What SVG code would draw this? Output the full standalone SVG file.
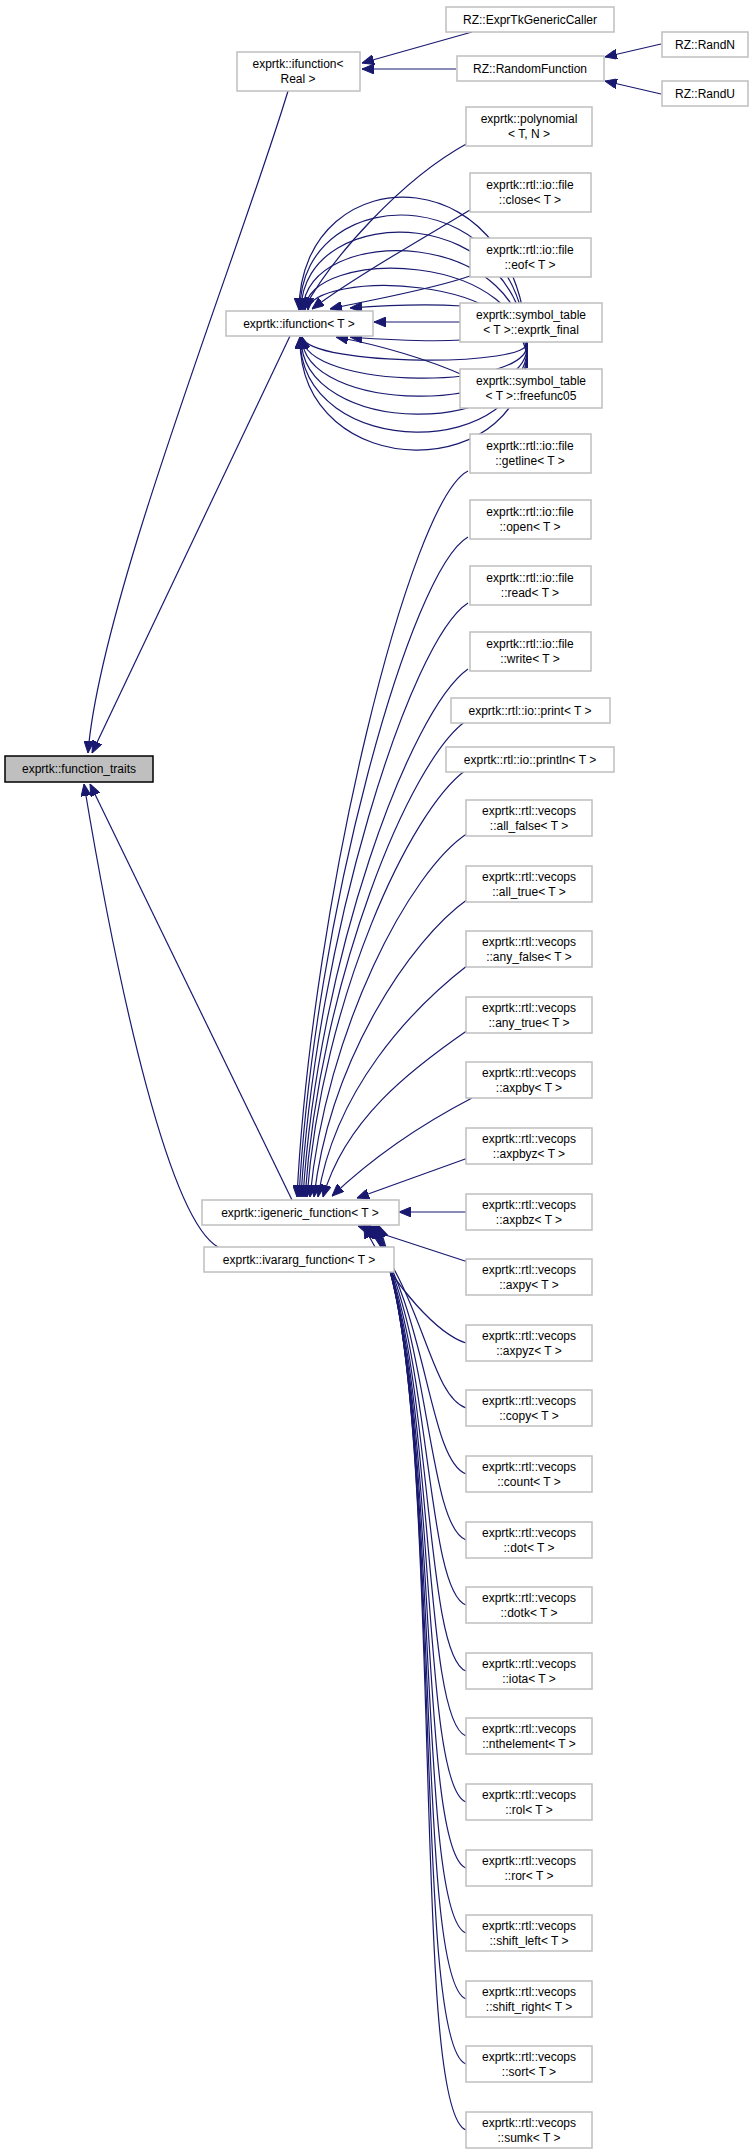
<svg xmlns="http://www.w3.org/2000/svg" width="756" height="2151" viewBox="0 0 756 2151">
<style>
.n rect{fill:#fff;stroke:#bfbfbf;stroke-width:1.5}
.n text{font-family:"Liberation Sans",Arial,sans-serif;font-size:12px;fill:#000;text-anchor:middle}
#ft rect{fill:#bfbfbf;stroke:#000}
#edges path{fill:none;stroke:#191970;stroke-width:1.2;marker-end:url(#ah)}
</style>
<defs>
<marker id="ah" viewBox="0 0 12 10" refX="12" refY="5" markerUnits="userSpaceOnUse" markerWidth="12" markerHeight="10" orient="auto"><path d="M0,0 L12,5 L0,10 Z" fill="#191970" stroke="#191970"/></marker>
</defs>
<g id="edges">
<path d="M288,91 C240,250 100,600 88,753"/>
<path d="M290,336 L92,753"/>
<path d="M292,1200 L90,784"/>
<path d="M218,1247 C170,1220 120,1000 84,784"/>
<path d="M472,32 L362,63"/>
<path d="M456,69 L362,69"/>
<path d="M661,44 L605,57"/>
<path d="M661,94 L605,81"/>
<path d="M468,143 C400,180 330,260 304,309"/>
<path d="M470,210 C420,240 350,280 312,309"/>
<path d="M470,276 C430,290 370,300 330,309"/>
<path d="M460,322 L374,322"/>
<path d="M462,306 C430,304 390,305 350,308"/>
<path d="M462,340 C430,342 390,340 350,337"/>
<path d="M465,376 C430,360 380,345 336,337"/>
<path d="M527,368 C535,151 300,151 299,310"/>
<path d="M527,368 C535,175 300,175 300,310"/>
<path d="M527,368 C535,198 302,198 301,310"/>
<path d="M527,368 C535,223 304,223 303,310"/>
<path d="M527,368 C535,247 305,247 305,310"/>
<path d="M527,368 C535,271 310,271 308,310"/>
<path d="M527,342 C535,367 310,367 302,337"/>
<path d="M527,342 C535,391 305,391 302,337"/>
<path d="M527,342 C535,415 302,415 302,337"/>
<path d="M527,342 C535,439 300,439 301,337"/>
<path d="M527,342 C535,463 299,463 300,337"/>
<path d="M527,342 C535,487 298,487 300,337"/>
<path d="M468,471 C410,500 312,900 297,1197"/>
<path d="M468,537 C410,570 314,920 299,1197"/>
<path d="M468,603 C410,640 316,940 301,1197"/>
<path d="M468,669 C410,710 318,960 303,1197"/>
<path d="M466,721 C410,760 320,980 305,1197"/>
<path d="M466,770 C410,810 322,1000 307,1197"/>
<path d="M468,833 C410,870 326,1030 310,1197"/>
<path d="M468,899 C410,940 330,1060 314,1197"/>
<path d="M468,965 C410,1010 335,1090 318,1197"/>
<path d="M468,1030 C410,1070 345,1120 323,1197"/>
<path d="M472,1098 C420,1125 370,1160 332,1196"/>
<path d="M468,1158 L357,1198"/>
<path d="M466,1212 L399,1212"/>
<path d="M468,1262 L358,1226"/>
<path d="M466,1343 C440,1335 395,1290 364,1226"/>
<path d="M466,1408 C430,1395 425,1300 366,1226"/>
<path d="M466,1474 C428,1460 428,1310 368,1226"/>
<path d="M466,1540 C426,1525 430,1320 370,1226"/>
<path d="M466,1605 C424,1590 432,1330 371,1226"/>
<path d="M466,1671 C422,1655 434,1340 372,1226"/>
<path d="M466,1736 C420,1720 436,1350 373,1226"/>
<path d="M466,1802 C418,1785 438,1360 374,1226"/>
<path d="M466,1868 C416,1850 440,1370 375,1226"/>
<path d="M466,1933 C414,1915 442,1380 376,1226"/>
<path d="M466,1999 C412,1980 444,1390 377,1226"/>
<path d="M466,2064 C410,2045 446,1400 378,1226"/>
<path d="M466,2130 C408,2110 448,1410 379,1226"/>
</g>
<g id="ft" class="n"><rect x="5" y="756" width="148" height="26"/><text x="79" y="773">exprtk::function_traits</text></g>
<g id="ifr" class="n"><rect x="237" y="52" width="123" height="39"/><text x="298" y="68">exprtk::ifunction&lt;</text><text x="298" y="83">Real &gt;</text></g>
<g id="egc" class="n"><rect x="446" y="7" width="168" height="25"/><text x="530" y="24">RZ::ExprTkGenericCaller</text></g>
<g id="rf" class="n"><rect x="457" y="56" width="147" height="25"/><text x="530" y="73">RZ::RandomFunction</text></g>
<g id="randn" class="n"><rect x="662" y="32" width="86" height="25"/><text x="705" y="49">RZ::RandN</text></g>
<g id="randu" class="n"><rect x="662" y="81" width="86" height="25"/><text x="705" y="98">RZ::RandU</text></g>
<g id="poly" class="n"><rect x="466" y="107" width="126" height="39"/><text x="529" y="123">exprtk::polynomial</text><text x="529" y="138">&lt; T, N &gt;</text></g>
<g id="ift" class="n"><rect x="226" y="311" width="147" height="25"/><text x="299" y="328">exprtk::ifunction&lt; T &gt;</text></g>
<g id="close" class="n"><rect x="470" y="173" width="121" height="39"/><text x="530" y="189">exprtk::rtl::io::file</text><text x="530" y="204">::close&lt; T &gt;</text></g>
<g id="eof" class="n"><rect x="470" y="238" width="121" height="39"/><text x="530" y="254">exprtk::rtl::io::file</text><text x="530" y="269">::eof&lt; T &gt;</text></g>
<g id="final" class="n"><rect x="460" y="303" width="142" height="39"/><text x="531" y="319">exprtk::symbol_table</text><text x="531" y="334">&lt; T &gt;::exprtk_final</text></g>
<g id="ff05" class="n"><rect x="460" y="369" width="142" height="39"/><text x="531" y="385">exprtk::symbol_table</text><text x="531" y="400">&lt; T &gt;::freefunc05</text></g>
<g id="getline" class="n"><rect x="470" y="434" width="121" height="39"/><text x="530" y="450">exprtk::rtl::io::file</text><text x="530" y="465">::getline&lt; T &gt;</text></g>
<g id="open" class="n"><rect x="470" y="500" width="121" height="39"/><text x="530" y="516">exprtk::rtl::io::file</text><text x="530" y="531">::open&lt; T &gt;</text></g>
<g id="read" class="n"><rect x="470" y="566" width="121" height="39"/><text x="530" y="582">exprtk::rtl::io::file</text><text x="530" y="597">::read&lt; T &gt;</text></g>
<g id="write" class="n"><rect x="470" y="632" width="121" height="39"/><text x="530" y="648">exprtk::rtl::io::file</text><text x="530" y="663">::write&lt; T &gt;</text></g>
<g id="print" class="n"><rect x="451" y="698" width="159" height="25"/><text x="530" y="715">exprtk::rtl::io::print&lt; T &gt;</text></g>
<g id="println" class="n"><rect x="446" y="747" width="168" height="25"/><text x="530" y="764">exprtk::rtl::io::println&lt; T &gt;</text></g>
<g id="igf" class="n"><rect x="202" y="1200" width="197" height="25"/><text x="300" y="1217">exprtk::igeneric_function&lt; T &gt;</text></g>
<g id="ivf" class="n"><rect x="204" y="1247" width="190" height="25"/><text x="299" y="1264">exprtk::ivararg_function&lt; T &gt;</text></g>
<g id="v1" class="n"><rect x="466" y="800" width="126" height="36"/><text x="529" y="815">exprtk::rtl::vecops</text><text x="529" y="830">::all_false&lt; T &gt;</text></g>
<g id="v2" class="n"><rect x="466" y="866" width="126" height="36"/><text x="529" y="881">exprtk::rtl::vecops</text><text x="529" y="896">::all_true&lt; T &gt;</text></g>
<g id="v3" class="n"><rect x="466" y="931" width="126" height="36"/><text x="529" y="946">exprtk::rtl::vecops</text><text x="529" y="961">::any_false&lt; T &gt;</text></g>
<g id="v4" class="n"><rect x="466" y="997" width="126" height="36"/><text x="529" y="1012">exprtk::rtl::vecops</text><text x="529" y="1027">::any_true&lt; T &gt;</text></g>
<g id="v5" class="n"><rect x="466" y="1062" width="126" height="36"/><text x="529" y="1077">exprtk::rtl::vecops</text><text x="529" y="1092">::axpby&lt; T &gt;</text></g>
<g id="v6" class="n"><rect x="466" y="1128" width="126" height="36"/><text x="529" y="1143">exprtk::rtl::vecops</text><text x="529" y="1158">::axpbyz&lt; T &gt;</text></g>
<g id="v7" class="n"><rect x="466" y="1194" width="126" height="36"/><text x="529" y="1209">exprtk::rtl::vecops</text><text x="529" y="1224">::axpbz&lt; T &gt;</text></g>
<g id="v8" class="n"><rect x="466" y="1259" width="126" height="36"/><text x="529" y="1274">exprtk::rtl::vecops</text><text x="529" y="1289">::axpy&lt; T &gt;</text></g>
<g id="v9" class="n"><rect x="466" y="1325" width="126" height="36"/><text x="529" y="1340">exprtk::rtl::vecops</text><text x="529" y="1355">::axpyz&lt; T &gt;</text></g>
<g id="v10" class="n"><rect x="466" y="1390" width="126" height="36"/><text x="529" y="1405">exprtk::rtl::vecops</text><text x="529" y="1420">::copy&lt; T &gt;</text></g>
<g id="v11" class="n"><rect x="466" y="1456" width="126" height="36"/><text x="529" y="1471">exprtk::rtl::vecops</text><text x="529" y="1486">::count&lt; T &gt;</text></g>
<g id="v12" class="n"><rect x="466" y="1522" width="126" height="36"/><text x="529" y="1537">exprtk::rtl::vecops</text><text x="529" y="1552">::dot&lt; T &gt;</text></g>
<g id="v13" class="n"><rect x="466" y="1587" width="126" height="36"/><text x="529" y="1602">exprtk::rtl::vecops</text><text x="529" y="1617">::dotk&lt; T &gt;</text></g>
<g id="v14" class="n"><rect x="466" y="1653" width="126" height="36"/><text x="529" y="1668">exprtk::rtl::vecops</text><text x="529" y="1683">::iota&lt; T &gt;</text></g>
<g id="v15" class="n"><rect x="466" y="1718" width="126" height="36"/><text x="529" y="1733">exprtk::rtl::vecops</text><text x="529" y="1748">::nthelement&lt; T &gt;</text></g>
<g id="v16" class="n"><rect x="466" y="1784" width="126" height="36"/><text x="529" y="1799">exprtk::rtl::vecops</text><text x="529" y="1814">::rol&lt; T &gt;</text></g>
<g id="v17" class="n"><rect x="466" y="1850" width="126" height="36"/><text x="529" y="1865">exprtk::rtl::vecops</text><text x="529" y="1880">::ror&lt; T &gt;</text></g>
<g id="v18" class="n"><rect x="466" y="1915" width="126" height="36"/><text x="529" y="1930">exprtk::rtl::vecops</text><text x="529" y="1945">::shift_left&lt; T &gt;</text></g>
<g id="v19" class="n"><rect x="466" y="1981" width="126" height="36"/><text x="529" y="1996">exprtk::rtl::vecops</text><text x="529" y="2011">::shift_right&lt; T &gt;</text></g>
<g id="v20" class="n"><rect x="466" y="2046" width="126" height="36"/><text x="529" y="2061">exprtk::rtl::vecops</text><text x="529" y="2076">::sort&lt; T &gt;</text></g>
<g id="v21" class="n"><rect x="466" y="2112" width="126" height="36"/><text x="529" y="2127">exprtk::rtl::vecops</text><text x="529" y="2142">::sumk&lt; T &gt;</text></g>
</svg>
